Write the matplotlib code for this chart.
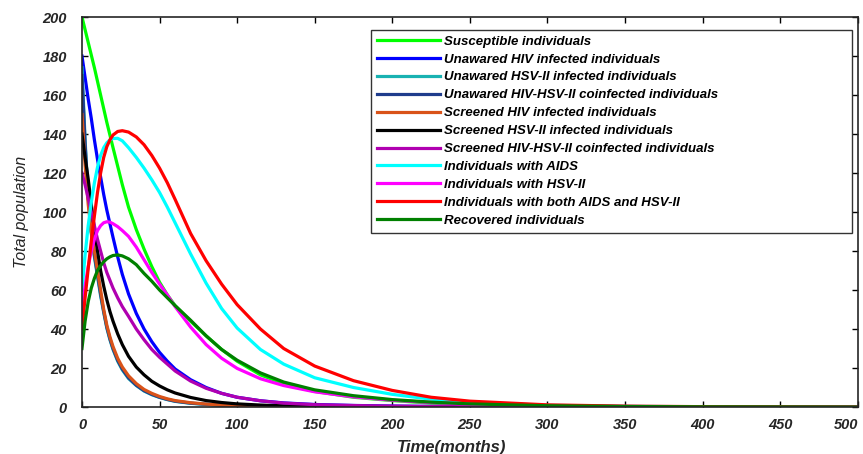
"""
HIV / HSV-II model: total population by class over time
"""
import matplotlib
matplotlib.use('Agg')
import matplotlib.pyplot as plt
import numpy as np

# time points (months) at which the curves were read
t = [0, 2, 4, 6, 8, 10, 12, 14, 16, 18, 20, 23, 26, 30, 35, 40, 45, 50, 55, 60,
     70, 80, 90, 100, 115, 130, 150, 175, 200, 225, 250, 300, 350, 400, 500]

susceptible = [200, 193.5, 187, 180.5, 174, 167, 160, 153, 146, 139.5, 133, 123.5, 114, 102.5, 91, 81, 72, 64, 57.5, 52,
               44, 36.5, 29.5, 23.5, 16.5, 12, 8, 5, 3.3, 2, 1.2, 0.45, 0.2, 0.08, 0]
unaware_hiv = [180, 169, 158, 148, 137, 127, 118, 109, 101, 94, 87, 77, 68, 58, 48, 40, 33.5, 28, 23.5, 19.5,
               14, 10, 7, 5, 3.2, 2.1, 1.3, 0.8, 0.5, 0.3, 0.2, 0.1, 0.05, 0, 0]
unaware_hsv = [174, 137, 108, 89, 77, 67, 57, 48.5, 40.5, 34.5, 29.5, 23.5, 19, 14.6, 11, 8.2, 6.3, 4.9, 3.8, 2.9,
               1.9, 1.3, 0.9, 0.6, 0.38, 0.24, 0.14, 0.07, 0.03, 0, 0, 0, 0, 0, 0]
unaware_co = [170, 135, 108, 90, 78, 68, 58, 49, 41, 35, 30, 24, 19.5, 15, 11.2, 8.4, 6.5, 5, 3.9, 3,
              2, 1.4, 0.95, 0.65, 0.4, 0.25, 0.15, 0.08, 0.04, 0, 0, 0, 0, 0, 0]
screened_hiv = [150, 124, 104, 90, 80, 70, 60, 50, 42, 36, 31, 25, 20.5, 16, 12, 9, 7, 5.4, 4.2, 3.3,
                2.2, 1.5, 1, 0.7, 0.45, 0.3, 0.18, 0.1, 0.05, 0, 0, 0, 0, 0, 0]
screened_hsv = [140, 128, 117, 104, 91, 80, 70, 62, 55, 49, 44, 37.5, 32, 26, 20.5, 16.5, 13.2, 10.8, 8.8, 7.2,
                4.9, 3.3, 2.3, 1.6, 1, 0.6, 0.35, 0.18, 0.1, 0.05, 0, 0, 0, 0, 0]
screened_co = [120, 114, 107, 100, 93, 86, 80, 74, 69, 65, 61, 56, 51.5, 46.5, 40, 34.5, 29.5, 25.5, 22, 18.5,
               13.3, 9.6, 7, 5, 3.2, 2, 1.2, 0.75, 0.45, 0.28, 0.18, 0.08, 0.03, 0, 0]
aids = [60, 78, 93, 105, 115, 123, 129, 133, 135.5, 137, 137.7, 137.8, 136.5, 133, 128, 122.5, 116.5, 110, 102.5, 94.5,
        78.5, 63.5, 50.5, 40.5, 29.5, 22, 15, 10, 6.5, 4, 2.4, 0.9, 0.35, 0.13, 0]
hsv2 = [50, 62, 72, 80, 86, 90.5, 93, 94.5, 95, 94.8, 94, 92.5, 90.5, 87.5, 82, 75.5, 69, 63, 57.5, 51.5,
        41, 32, 25, 19.8, 14.5, 11, 7.8, 5.2, 3.5, 2.3, 1.5, 0.6, 0.25, 0.1, 0]
both = [40, 56, 71, 85, 98, 110, 120, 128, 133.5, 137, 139.5, 141.3, 141.7, 141, 138.5, 134.5, 129, 122.5, 115, 106.5,
        89, 75, 63, 52.5, 40, 30, 21, 13.5, 8.5, 5, 3, 1.1, 0.45, 0.18, 0]
recovered = [30, 44, 54, 61, 66, 70, 72.5, 74.5, 76, 77, 77.7, 78, 77.5, 76, 73, 68.5, 64.5, 60, 56, 52,
             44.5, 36.5, 29.5, 24, 17.5, 12.8, 8.8, 5.8, 3.8, 2.5, 1.6, 0.65, 0.25, 0.1, 0]

series = [
    (susceptible, '#00ff00', 'Susceptible individuals'),
    (unaware_hiv, '#0000ff', 'Unawared HIV infected individuals'),
    (unaware_hsv, '#19b2b2', 'Unawared HSV-II infected individuals'),
    (unaware_co, '#1f3c8c', 'Unawared HIV-HSV-II coinfected individuals'),
    (screened_hiv, '#d95319', 'Screened HIV infected individuals'),
    (screened_hsv, '#000000', 'Screened HSV-II infected individuals'),
    (screened_co, '#b000b0', 'Screened HIV-HSV-II coinfected individuals'),
    (aids, '#00ffff', 'Individuals with AIDS'),
    (hsv2, '#ff00ff', 'Individuals with HSV-II'),
    (both, '#ff0000', 'Individuals with both AIDS and HSV-II'),
    (recovered, '#008000', 'Recovered individuals'),
]

plt.rcParams['font.family'] = ['Liberation Sans', 'DejaVu Sans']

fig = plt.figure(figsize=(8.63, 4.54), dpi=100)
ax = fig.add_axes([0.095, 0.1035, 0.899, 0.859])

for vals, color, label in series:
    ax.plot(t, vals, color=color, linewidth=2.3, label=label, solid_joinstyle='round')

ax.set_xlim(0, 500)
ax.set_ylim(0, 200)
ax.set_xticks(np.arange(0, 501, 50))
ax.set_yticks(np.arange(0, 201, 20))
ax.tick_params(axis='both', direction='in', top=True, right=True, length=4, width=1)
ax.tick_params(axis='x', pad=8)
ax.tick_params(axis='y', pad=11)
for lab in ax.get_xticklabels() + ax.get_yticklabels():
    lab.set_fontweight('bold')
    lab.set_fontstyle('italic')
    lab.set_fontsize(10.5)
    lab.set_color('#262626')
# last x label sits at the figure edge, nudge it inwards a little
ax.get_xticklabels()[-1].set_horizontalalignment('right')
for s in ax.spines.values():
    s.set_linewidth(1.2)
    s.set_color('#262626')

ax.set_xlabel('Time(months)', fontsize=12, fontweight='bold', fontstyle='italic', color='#262626')
ax.xaxis.set_label_coords(0.476, -0.085)
ax.set_ylabel('Total population', fontsize=11.5, fontstyle='italic', color='#262626')
ax.yaxis.set_label_coords(-0.068, 0.5)

leg = ax.legend(loc='upper left', bbox_to_anchor=(0.372, 0.446, 0.62, 0.522), mode='expand',
                prop={'weight': 'bold', 'style': 'italic', 'size': 9.5},
                handlelength=4.8, handletextpad=0.3, labelspacing=0.43, borderpad=0.45,
                borderaxespad=0, fancybox=False, edgecolor='#333333', framealpha=1)
leg.get_frame().set_linewidth(1.0)

plt.savefig('out.png', dpi=100)
